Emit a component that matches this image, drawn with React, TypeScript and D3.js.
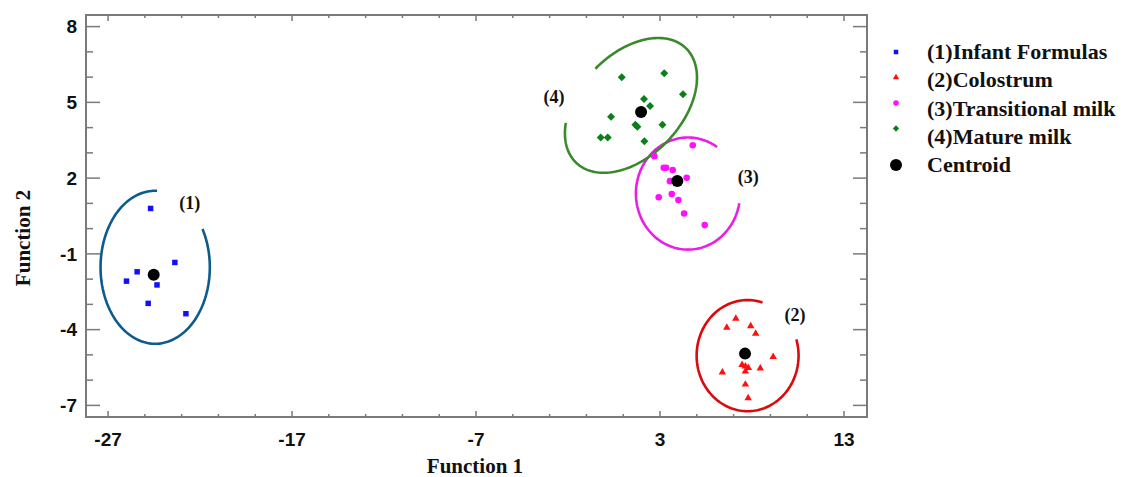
import React, { useEffect, useRef } from 'react'
import * as d3 from 'd3'

type Pt = [number, number]

// discriminant scores (Function 1, Function 2)
const infantFormulas: Pt[] = [
  [-24.69, 0.8], [-23.37, -1.34], [-25.42, -1.71], [-26.0, -2.08],
  [-24.34, -2.23], [-24.82, -2.96], [-22.77, -3.37],
]
const colostrum: Pt[] = [
  [7.12, -3.56], [6.63, -3.92], [7.93, -3.86], [8.2, -4.16], [9.15, -5.08],
  [7.46, -5.39], [7.64, -5.45], [7.8, -5.51], [8.45, -5.53], [6.39, -5.69],
  [7.64, -5.65], [7.64, -6.17], [7.79, -6.71],
]
const transitionalMilk: Pt[] = [
  [4.78, 3.3], [2.69, 2.87], [3.2, 2.41], [3.33, 2.41], [3.69, 2.32],
  [4.45, 2.01], [3.54, 1.88], [2.93, 1.24], [3.64, 1.37], [4.0, 1.13],
  [4.31, 0.6], [5.43, 0.14],
]
const matureMilk: Pt[] = [
  [0.92, 5.99], [3.23, 6.15], [4.25, 5.32], [2.13, 5.13], [2.46, 4.86],
  [0.34, 4.43], [1.66, 4.11], [1.77, 4.03], [3.13, 4.11], [-0.22, 3.61],
  [0.16, 3.61], [2.15, 3.46],
]
const centroids: Pt[] = [[-24.52, -1.83], [7.62, -4.95], [3.94, 1.89], [1.97, 4.62]]

const groupNames = [
  '(1)Infant Formulas',
  '(2)Colostrum',
  '(3)Transitional milk',
  '(4)Mature milk',
]
const groupLabels = ['(1)', '(2)', '(3)', '(4)']
const labelPos: Pt[] = [[-22.56, 1.01], [10.34, -3.43], [7.8, 2.05], [-2.76, 5.19]]

// confidence ellipses: centre, semi axes, tilt (deg), open gap (deg)
const ellipses = [
  { cx: -24.44, cy: -1.53, rx: 2.97, ry: 3.03, rot: 0, gap: [30, 88] },
  { cx: 7.76, cy: -5.03, rx: 2.77, ry: 2.2, rot: 0, gap: [17, 73] },
  { cx: 4.52, cy: 1.39, rx: 2.83, ry: 2.22, rot: 0, gap: [-9, 56] },
  { cx: 1.42, cy: 4.88, rx: 3.86, ry: 2.26, rot: 27, gap: [107, 154] },
]

const xMajor = [-27, -17, -7, 3, 13]
const xMinor = d3.range(-27, 14, 2)
const yMajor = [8, 5, 2, -1, -4, -7]
const yMinor = d3.range(-7, 9, 1)

const pointColors = ['#1010ff', '#ff1010', '#ff10ff', '#0a7f1a']
const ellipseColors = ['#0d5a8c', '#dc0a0a', '#ea1ee4', '#3a8a2c']

const App: React.FC = () => {
  const svgRef = useRef<SVGSVGElement | null>(null)

  useEffect(() => {
    if (!svgRef.current) return
    const svg = d3.select(svgRef.current)
    svg.selectAll('*').remove()

    const left = 86
    const right = 867
    const top = 15
    const bottom = 417

    const x = d3.scaleLinear().domain([-28.2, 14.25]).range([left, right])
    const y = d3.scaleLinear().domain([-7.46, 8.46]).range([bottom, top])

    const frameColor = '#7a7a7a'

    // ellipses
    const line = d3.line<Pt>().x((d) => x(d[0])).y((d) => y(d[1]))
    ellipses.forEach((e, i) => {
      const phi = (e.rot * Math.PI) / 180
      const t0 = e.gap[1]
      const t1 = e.gap[0] + 360
      const pts: Pt[] = d3.range(t0, t1 + 0.5, 2).map((deg) => {
        const t = (deg * Math.PI) / 180
        const ux = e.rx * Math.cos(t)
        const vy = e.ry * Math.sin(t)
        return [
          e.cx + ux * Math.cos(phi) - vy * Math.sin(phi),
          e.cy + ux * Math.sin(phi) + vy * Math.cos(phi),
        ]
      })
      svg
        .append('path')
        .attr('d', line(pts)!)
        .attr('fill', 'none')
        .attr('stroke', ellipseColors[i])
        .attr('stroke-width', 2.6)
    })

    // points
    const square = d3.symbol().type(d3.symbolSquare).size(30)
    const triangle = d3.symbol().type(d3.symbolTriangle).size(24)
    const diamond = d3.symbol().type(d3.symbolSquare).size(32)

    svg
      .append('g')
      .selectAll('path')
      .data(infantFormulas)
      .enter()
      .append('path')
      .attr('d', square()!)
      .attr('transform', (d) => `translate(${x(d[0])},${y(d[1])})`)
      .attr('fill', pointColors[0])

    svg
      .append('g')
      .selectAll('path')
      .data(colostrum)
      .enter()
      .append('path')
      .attr('d', triangle()!)
      .attr('transform', (d) => `translate(${x(d[0])},${y(d[1])})`)
      .attr('fill', pointColors[1])

    svg
      .append('g')
      .selectAll('circle')
      .data(transitionalMilk)
      .enter()
      .append('circle')
      .attr('cx', (d) => x(d[0]))
      .attr('cy', (d) => y(d[1]))
      .attr('r', 3.3)
      .attr('fill', pointColors[2])

    svg
      .append('g')
      .selectAll('path')
      .data(matureMilk)
      .enter()
      .append('path')
      .attr('d', diamond()!)
      .attr('transform', (d) => `translate(${x(d[0])},${y(d[1])}) rotate(45)`)
      .attr('fill', pointColors[3])

    svg
      .append('g')
      .selectAll('circle')
      .data(centroids)
      .enter()
      .append('circle')
      .attr('cx', (d) => x(d[0]))
      .attr('cy', (d) => y(d[1]))
      .attr('r', 6)
      .attr('fill', '#000')

    // group labels
    svg
      .append('g')
      .selectAll('text')
      .data(groupLabels)
      .enter()
      .append('text')
      .attr('x', (_, i) => x(labelPos[i][0]))
      .attr('y', (_, i) => y(labelPos[i][1]))
      .attr('dy', '0.32em')
      .attr('text-anchor', 'middle')
      .attr('font-family', '"Liberation Serif", serif')
      .attr('font-weight', 'bold')
      .attr('font-size', 18)
      .attr('fill', '#111')
      .text((d) => d)

    // frame + ticks
    svg
      .append('rect')
      .attr('x', left)
      .attr('y', top)
      .attr('width', right - left)
      .attr('height', bottom - top)
      .attr('fill', 'none')
      .attr('stroke', frameColor)
      .attr('stroke-width', 2)

    const ticks = svg.append('g').attr('stroke', frameColor).attr('stroke-width', 1.5)
    xMinor.forEach((v) => {
      const len = xMajor.includes(v) ? 6 : 3
      ticks.append('line').attr('x1', x(v)).attr('x2', x(v)).attr('y1', bottom).attr('y2', bottom - len)
      ticks.append('line').attr('x1', x(v)).attr('x2', x(v)).attr('y1', top).attr('y2', top + len)
    })
    yMinor.forEach((v) => {
      const len = yMajor.includes(v) ? 14 : 7
      ticks.append('line').attr('x1', left).attr('x2', left + len).attr('y1', y(v)).attr('y2', y(v))
      ticks.append('line').attr('x1', right).attr('x2', right - len).attr('y1', y(v)).attr('y2', y(v))
    })

    const tickFont = '"Liberation Sans", Arial, sans-serif'
    svg
      .append('g')
      .selectAll('text')
      .data(xMajor)
      .enter()
      .append('text')
      .attr('x', (d) => x(d))
      .attr('y', 446)
      .attr('text-anchor', 'middle')
      .attr('font-family', tickFont)
      .attr('font-weight', 'bold')
      .attr('font-size', 19)
      .attr('fill', '#111')
      .text((d) => String(d))

    svg
      .append('g')
      .selectAll('text')
      .data(yMajor)
      .enter()
      .append('text')
      .attr('x', 77)
      .attr('y', (d) => y(d))
      .attr('dy', '0.36em')
      .attr('text-anchor', 'end')
      .attr('font-family', tickFont)
      .attr('font-weight', 'bold')
      .attr('font-size', 19)
      .attr('fill', '#111')
      .text((d) => String(d))

    // axis titles
    const titleFont = '"Liberation Serif", "Times New Roman", serif'
    svg
      .append('text')
      .attr('x', 475)
      .attr('y', 473)
      .attr('text-anchor', 'middle')
      .attr('font-family', titleFont)
      .attr('font-weight', 'bold')
      .attr('font-size', 21)
      .attr('fill', '#111')
      .text('Function 1')
    svg
      .append('text')
      .attr('transform', 'translate(30,238) rotate(-90)')
      .attr('text-anchor', 'middle')
      .attr('font-family', titleFont)
      .attr('font-weight', 'bold')
      .attr('font-size', 21)
      .attr('fill', '#111')
      .text('Function 2')

    // legend
    const legend = svg.append('g')
    const markerX = 896
    const textX = 927
    const rows = [...groupNames, 'Centroid']
    rows.forEach((name, i) => {
      const cy = 51.5 + i * 28.4
      legend
        .append('text')
        .attr('x', textX)
        .attr('y', cy)
        .attr('dy', '0.33em')
        .attr('font-family', titleFont)
        .attr('font-weight', 'bold')
        .attr('font-size', 22)
        .attr('fill', '#111')
        .text(name)
    })
    const my = (i: number) => (i < 4 ? 52 + i * 25.5 : 51.5 + i * 28.4)
    legend
      .append('path')
      .attr('d', d3.symbol().type(d3.symbolSquare).size(20)()!)
      .attr('transform', `translate(${markerX},${my(0)})`)
      .attr('fill', pointColors[0])
    legend
      .append('path')
      .attr('d', d3.symbol().type(d3.symbolTriangle).size(18)()!)
      .attr('transform', `translate(${markerX},${my(1)})`)
      .attr('fill', pointColors[1])
    legend
      .append('circle')
      .attr('cx', markerX)
      .attr('cy', my(2))
      .attr('r', 2.8)
      .attr('fill', pointColors[2])
    legend
      .append('path')
      .attr('d', d3.symbol().type(d3.symbolSquare).size(20)()!)
      .attr('transform', `translate(${markerX},${my(3)}) rotate(45)`)
      .attr('fill', pointColors[3])
    legend
      .append('circle')
      .attr('cx', markerX)
      .attr('cy', my(4))
      .attr('r', 6)
      .attr('fill', '#000')
  }, [])

  return (
    <svg
      ref={svgRef}
      width={1125}
      height={477}
      style={{ position: 'absolute', left: 0, top: 0, background: '#fff' }}
    ></svg>
  )
}

export default App
